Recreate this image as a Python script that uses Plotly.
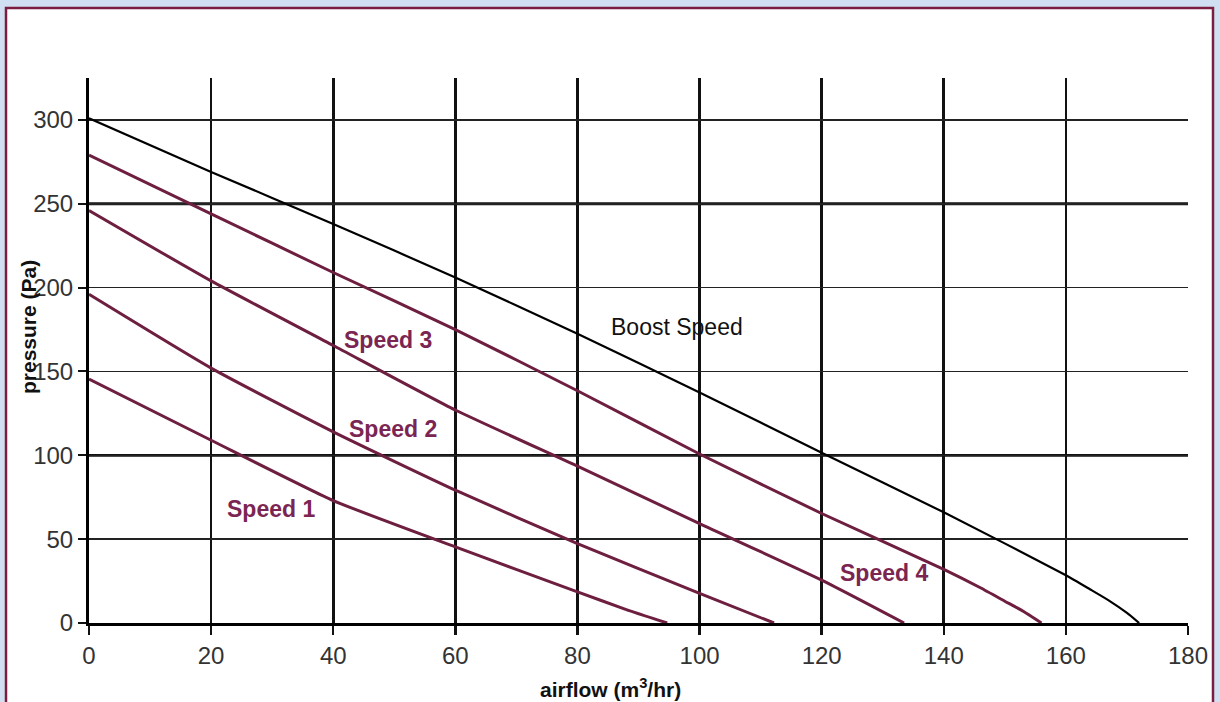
import plotly.graph_objects as go

# ---- data ----
X_TICKS = [0, 20, 40, 60, 80, 100, 120, 140, 160, 180]
Y_TICKS = [0, 50, 100, 150, 200, 250, 300]
Y_HEAVY = [100, 250]

boost_x = [0, 20, 40, 60, 80, 100, 120, 140, 160, 164, 167, 170, 172]
boost_y = [301, 269, 238, 206, 172.5, 137.5, 101.5, 66, 28.5, 20, 13.5, 6, 0]

s4_x = [0, 20, 40, 60, 80, 100, 120, 140, 146, 150, 153, 156]
s4_y = [279, 244, 209, 175, 138.5, 100.8, 65.3, 32, 21, 13, 7, 0]

s3_x = [0, 20, 40, 60, 80, 100, 120, 133.5]
s3_y = [246, 204, 165.5, 127, 93.5, 59.3, 25.6, 0]

s2_x = [0, 20, 40, 60, 80, 100, 112.2]
s2_y = [196, 152, 114, 79.2, 47.4, 17.7, 0]

s1_x = [0, 20, 40, 60, 80, 88, 94.7]
s1_y = [145.5, 109, 73, 45.4, 18.6, 8, 0]

labels = ["Speed 3", "Speed 2", "Speed 1", "Speed 4", "Boost Speed"]
label_x = [48.9, 49.8, 29.8, 130.2, 96.3]
label_y = [168.5, 115.9, 67.9, 29.9, 176.4]

# ---- styles ----
FONT = "Liberation Sans, Arial, sans-serif"
MAROON = "#6e1f40"
LABEL_MAROON = "#7b2652"

fig = go.Figure()

series = [
    (boost_x, boost_y, "#000000", 2.2),
    (s4_x, s4_y, MAROON, 3),
    (s3_x, s3_y, MAROON, 3),
    (s2_x, s2_y, MAROON, 3),
    (s1_x, s1_y, MAROON, 3),
]
for xs, ys, col, w in series:
    fig.add_trace(go.Scatter(
        x=xs, y=ys, mode="lines",
        line=dict(color=col, width=w, shape="spline", smoothing=0.5),
        hoverinfo="skip", showlegend=False))

shapes = [
    # white panel with maroon border
    dict(type="rect", xref="paper", yref="paper",
         x0=(6 - 89) / 1099, x1=(1213 - 89) / 1099,
         y0=(623 - 720) / 545, y1=(623 - 8) / 545,
         fillcolor="#ffffff", line=dict(color="#7a1d40", width=2.5),
         layer="below"),
]
for yv in Y_HEAVY:
    shapes.append(dict(type="line", xref="x", yref="y", x0=0, x1=X_TICKS[-1],
                       y0=yv, y1=yv, line=dict(color="#111111", width=2.8),
                       layer="below"))

annotations = []
for t, ax_, ay_ in zip(labels, label_x, label_y):
    boost = t.startswith("Boost")
    annotations.append(dict(
        x=ax_, y=ay_, xref="x", yref="y", text=t, showarrow=False,
        xanchor="center", yanchor="middle",
        font=dict(family=FONT, size=23,
                  color="#111111" if boost else LABEL_MAROON,
                  weight="normal" if boost else "bold")))

annotations.append(dict(
    x=(610 - 89) / 1099, y=(623 - 688) / 545, xref="paper", yref="paper",
    xanchor="center", yanchor="middle",
    text="airflow (m<sup>3</sup>/hr)", showarrow=False,
    font=dict(family=FONT, size=21, color="#111111", weight="bold")))
annotations.append(dict(
    x=(28 - 89) / 1099, y=(623 - 327) / 545, xref="paper", yref="paper",
    xanchor="center", yanchor="middle",
    text="pressure (Pa)", showarrow=False, textangle=-90,
    font=dict(family=FONT, size=21, color="#111111", weight="bold")))

fig.update_layout(
    width=1220, height=702, autosize=False,
    margin=dict(l=89, r=32, t=78, b=79),
    paper_bgcolor="#d0e0f2", plot_bgcolor="#ffffff",
    shapes=shapes, annotations=annotations,
    font=dict(family=FONT),
    xaxis=dict(range=[0, 180], tickvals=X_TICKS, ticktext=[str(v) for v in X_TICKS],
               showgrid=True, gridcolor="#111111", gridwidth=2.6,
               zeroline=False, showline=True, linecolor="#000000", linewidth=3,
               ticks="outside", ticklen=9, tickwidth=2.5, tickcolor="#111111",
               tickfont=dict(family=FONT, size=24, color="#333333"), fixedrange=True),
    yaxis=dict(range=[0, 325], tickvals=Y_TICKS, ticktext=[str(v) for v in Y_TICKS],
               showgrid=True, gridcolor="#222222", gridwidth=1.5,
               zeroline=False, showline=True, linecolor="#000000", linewidth=3,
               ticks="outside", ticklen=8, tickwidth=2, tickcolor="#111111",
               tickfont=dict(family=FONT, size=24, color="#333333"), fixedrange=True),
)

fig.write_html(
    "out.html",
    config={"displayModeBar": False, "staticPlot": True},
    post_script="document.body.style.margin='0';document.body.style.padding='0';"
                "document.body.style.overflow='hidden';",
)
